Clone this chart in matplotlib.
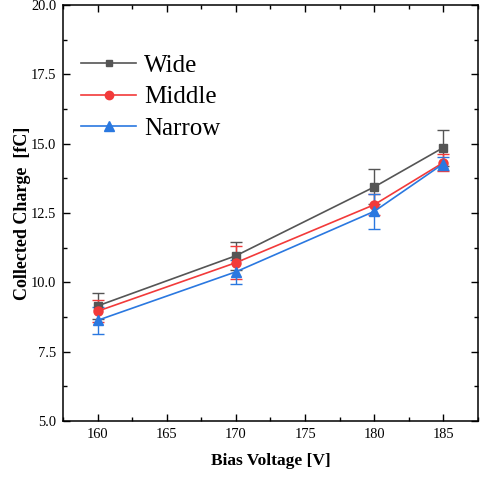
import matplotlib
matplotlib.use("Agg")
import matplotlib.pyplot as plt
from matplotlib.ticker import MultipleLocator, FormatStrFormatter
from matplotlib.lines import Line2D

plt.rcParams['font.family'] = ['Liberation Serif', 'DejaVu Serif']

voltage = [160, 170, 180, 185]
wide = [9.15, 10.96, 13.44, 14.86]
wide_err = [0.47, 0.50, 0.63, 0.65]
middle = [8.96, 10.71, 12.80, 14.32]
middle_err = [0.40, 0.60, 0.38, 0.30]
narrow = [8.63, 10.38, 12.56, 14.28]
narrow_err = [0.48, 0.44, 0.62, 0.24]

series = [
    ("Wide", wide, wide_err, '#555555', 's', 5.5),
    ("Middle", middle, middle_err, '#f23a3a', 'o', 6.5),
    ("Narrow", narrow, narrow_err, '#2a78e0', '^', 7.5),
]

fig = plt.figure(figsize=(4.82, 4.78), dpi=100)
ax = fig.add_axes([0.1307, 0.1192, 0.8610, 0.8703])

handles = []
for name, vals, errs, col, mk, ms in series:
    ax.errorbar(voltage, vals, yerr=errs, color=col, marker=mk, markersize=ms,
                linewidth=1.2, elinewidth=1.0, capsize=4, capthick=1.0)
    handles.append(Line2D([], [], color=col, marker=mk, markersize=ms - 0.5,
                          linewidth=1.2, label=name))

ax.set_xlim(157.5, 187.5)
ax.set_ylim(5.0, 20.0)
ax.xaxis.set_major_locator(MultipleLocator(5))
ax.xaxis.set_minor_locator(MultipleLocator(2.5))
ax.yaxis.set_major_locator(MultipleLocator(2.5))
ax.yaxis.set_minor_locator(MultipleLocator(1.25))
ax.yaxis.set_major_formatter(FormatStrFormatter('%.1f'))
ax.tick_params(which='both', direction='in', top=True, right=True, labelsize=10.4, width=1.0)
ax.tick_params(which='major', length=5, pad=5)
ax.tick_params(which='minor', length=3)
for sp in ax.spines.values():
    sp.set_linewidth(1.1)

ax.set_xlabel('Bias Voltage [V]', fontsize=12.5, fontweight='bold', labelpad=9)
ax.set_ylabel('Collected Charge  [fC]', fontsize=13, fontweight='bold', labelpad=0)

ax.legend(handles=handles, loc='upper left', bbox_to_anchor=(0.02, 0.905), frameon=False,
          fontsize=18, handlelength=2.2, handletextpad=0.3, labelspacing=0.35,
          borderaxespad=0)

fig.savefig('out.png', dpi=100)
